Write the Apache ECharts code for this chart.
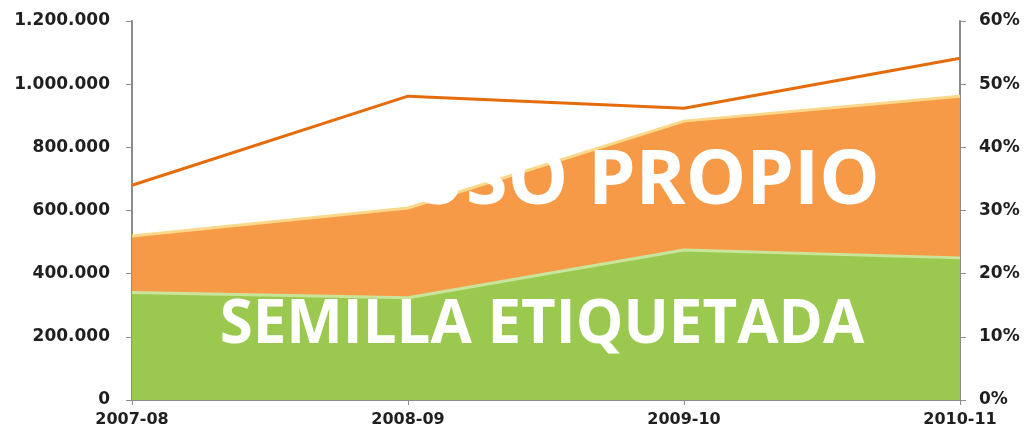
<!DOCTYPE html>
<html>
<head>
<meta charset="utf-8">
<script src="https://cdn.jsdelivr.net/npm/echarts@6/dist/echarts.min.js"></script>
<style>
  html, body { margin: 0; padding: 0; background: #fff; }
  #main { width: 1024px; height: 440px; }
</style>
</head>
<body>
<div id="main"></div>
<script>
// campañas
var campaigns = ['2007-08', '2008-09', '2009-10', '2010-11']
// semilla etiquetada (t)
var semilla = [340000, 324000, 475000, 450000]
// uso propio (t), apilado encima
var usoPropio = [179000, 284000, 408000, 512000]
// porcentaje semilla etiquetada
var porcentaje = [34.0, 48.1, 46.2, 54.1]

var labelFont = {
  fontFamily: 'DejaVu Sans',
  fontWeight: 'bold',
  fontSize: 17,
  color: '#1f1f1f'
}
var axisGray = '#8c8c8c'

function miles (v) {
  return String(v).replace(/\B(?=(\d{3})+(?!\d))/g, '.')
}

var option = {
  animation: false,
  grid: { left: 132, right: 64, top: 21, bottom: 40 },
  xAxis: {
    type: 'category',
    data: campaigns,
    boundaryGap: false,
    axisLine: { lineStyle: { color: axisGray, width: 2 } },
    axisTick: { show: true, length: 5, lineStyle: { color: axisGray } },
    axisLabel: Object.assign({ margin: 12 }, labelFont, { fontSize: 16 })
  },
  yAxis: [
    {
      type: 'value',
      min: 0,
      max: 1200000,
      interval: 200000,
      splitLine: { show: false },
      axisLine: { show: true, lineStyle: { color: axisGray, width: 2 } },
      axisTick: { show: true, length: 6, lineStyle: { color: axisGray } },
      axisLabel: Object.assign({ margin: 22, formatter: miles }, labelFont)
    },
    {
      type: 'value',
      min: 0,
      max: 60,
      interval: 10,
      position: 'right',
      splitLine: { show: false },
      axisLine: { show: true, lineStyle: { color: axisGray, width: 2 } },
      axisTick: { show: true, length: 6, lineStyle: { color: axisGray } },
      axisLabel: Object.assign({ margin: 19, formatter: '{value}%' }, labelFont)
    }
  ],
  series: [
    {
      name: 'Semilla etiquetada',
      type: 'line',
      stack: 'total',
      data: semilla,
      symbol: 'none',
      lineStyle: { color: '#c9e59c', width: 3 },
      areaStyle: { color: '#9bc94f', opacity: 1 },
      z: 2
    },
    {
      name: 'Uso propio',
      type: 'line',
      stack: 'total',
      data: usoPropio,
      symbol: 'none',
      lineStyle: { color: '#fbd88a', width: 3 },
      areaStyle: { color: '#f79a48', opacity: 1 },
      z: 1
    },
    {
      name: '% semilla',
      type: 'line',
      yAxisIndex: 1,
      data: porcentaje,
      symbol: 'none',
      lineStyle: { color: '#e46c0a', width: 3 },
      z: 3
    }
  ],
  graphic: [
    {
      type: 'text',
      x: 644,
      y: 182,
      style: {
        text: 'USO PROPIO',
        fill: '#ffffff',
        font: 'bold 76px "Open Sans"',
        align: 'center',
        verticalAlign: 'middle'
      },
      z: 10
    },
    {
      type: 'text',
      x: 542,
      y: 326,
      style: {
        text: 'SEMILLA ETIQUETADA',
        fill: '#ffffff',
        font: 'bold 60px "Open Sans"',
        align: 'center',
        verticalAlign: 'middle'
      },
      z: 10
    }
  ]
}

var myChart = echarts.init(document.getElementById('main'))
myChart.setOption(option)
</script>
</body>
</html>
